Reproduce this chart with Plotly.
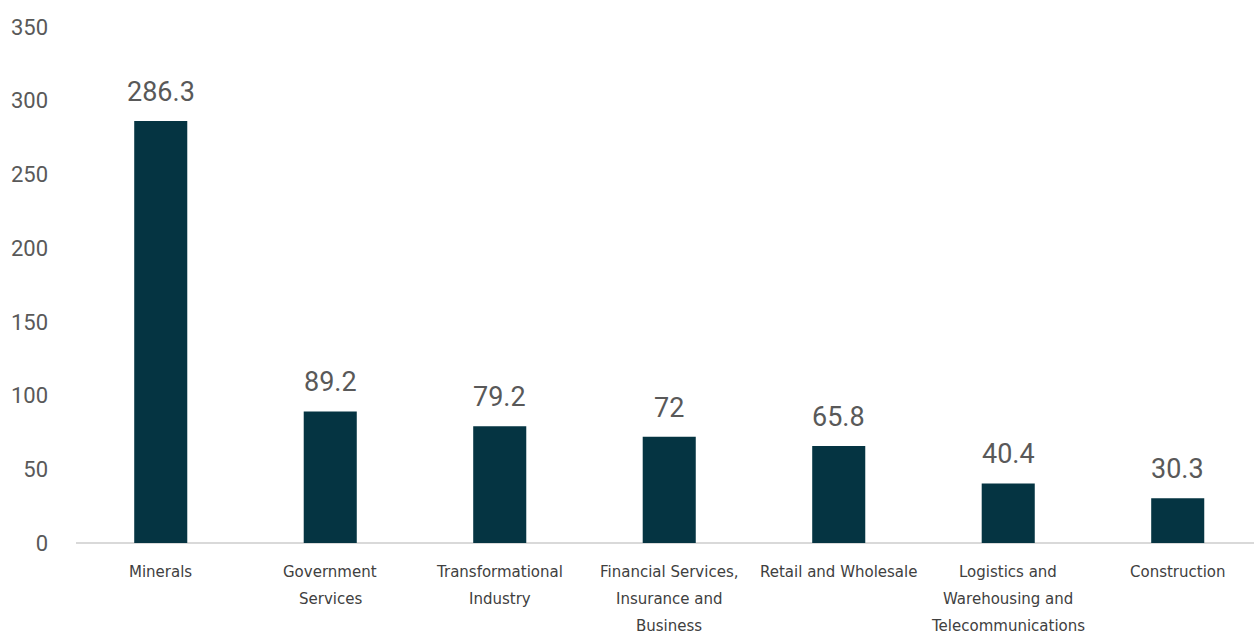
import plotly.graph_objects as go

# Sector values
categories = [
    "Minerals",
    "Government Services",
    "Transformational Industry",
    "Financial Services, Insurance and Business",
    "Retail and Wholesale",
    "Logistics and Warehousing and Telecommunications",
    "Construction",
]
values = [286.3, 89.2, 79.2, 72, 65.8, 40.4, 30.3]
value_labels = ["286.3", "89.2", "79.2", "72", "65.8", "40.4", "30.3"]
category_lines = [
    ["Minerals"],
    ["Government", "Services"],
    ["Transformational", "Industry"],
    ["Financial Services,", "Insurance and", "Business"],
    ["Retail and Wholesale"],
    ["Logistics and", "Warehousing and", "Telecommunications"],
    ["Construction"],
]
y_ticks = [0, 50, 100, 150, 200, 250, 300, 350]

BAR_COLOR = "#053442"
TEXT_GRAY = "#595959"
LABEL_GRAY = "#404040"
FONT = "Roboto, Noto Sans, sans-serif"
LABEL_FONT = "DejaVu Sans, sans-serif"

fig = go.Figure(
    go.Bar(
        x=categories,
        y=values,
        marker=dict(color=BAR_COLOR, line=dict(width=0)),
        hoverinfo="x+y",
    )
)

annotations = []
# value labels above each bar
for cat, val, lab in zip(categories, values, value_labels):
    annotations.append(dict(
        x=cat, y=val, xref="x", yref="y", text=lab, showarrow=False,
        yanchor="middle", yshift=29,
        font=dict(family=FONT, size=27, color=TEXT_GRAY),
    ))
# category labels below the baseline, one annotation per line
for cat, lines in zip(categories, category_lines):
    for i, line in enumerate(lines):
        annotations.append(dict(
            x=cat, y=0, xref="x", yref="y", text=line, showarrow=False,
            yanchor="middle", yshift=-29 - 27 * i,
            font=dict(family=LABEL_FONT, size=15, color=LABEL_GRAY),
        ))

fig.update_layout(
    width=1254,
    height=635,
    margin=dict(l=76, r=0, t=27, b=92),
    paper_bgcolor="white",
    plot_bgcolor="white",
    bargap=0.687,
    showlegend=False,
    font=dict(family=FONT, color=TEXT_GRAY),
    annotations=annotations,
    xaxis=dict(
        type="category",
        range=[-0.5, 6.45],
        showticklabels=False,
        showgrid=False,
        ticks="",
        showline=False,
        zeroline=False,
    ),
    yaxis=dict(
        range=[0, 350],
        tickvals=y_ticks,
        ticktext=[str(v) for v in y_ticks],
        showgrid=False,
        zeroline=True,
        zerolinecolor="#d9d9d9",
        zerolinewidth=2,
        showline=False,
        ticks="",
        ticklabelstandoff=27,
        tickfont=dict(family=FONT, size=22, color=TEXT_GRAY),
    ),
)

fig.write_html("out.html")
